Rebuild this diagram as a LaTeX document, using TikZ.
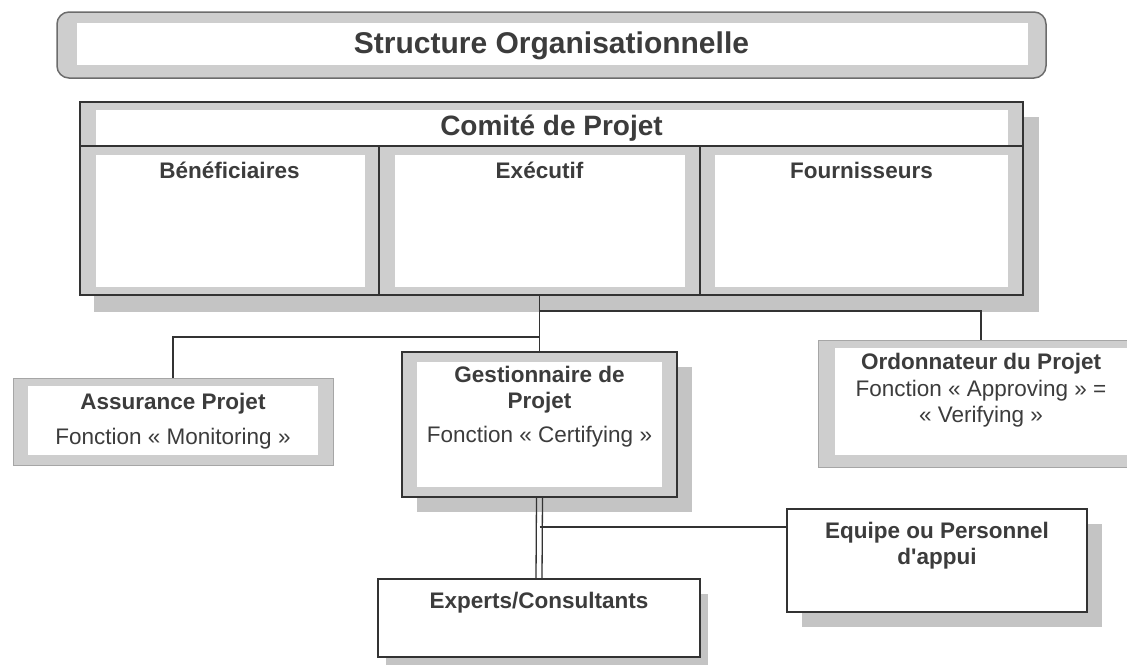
\documentclass[tikz,border=0pt]{standalone}
\usepackage{fontspec}
\setmainfont{Liberation Sans}[Ligatures=TeXOff]
\setsansfont{Liberation Sans}[Ligatures=TeXOff]
\usetikzlibrary{backgrounds,shadows}
\definecolor{framegray}{HTML}{CECECE}
\definecolor{shadegray}{HTML}{C4C4C4}
\definecolor{inkgray}{HTML}{3C3C3C}
\definecolor{linegray}{HTML}{333333}
\tikzset{
	gframe/.style n args={4}{fill=framegray, path picture={%
		\fill[white, sharp corners] ([shift={(#1pt,-#2pt)}]path picture bounding box.north west)
			rectangle ([shift={(-#3pt,#4pt)}]path picture bounding box.south east);}},
	box/.style={draw=linegray, line width=1.3pt, inner sep=0pt},
	softbox/.style={draw=gray!70, line width=1pt, inner sep=0pt},
	lbl/.style={text=inkgray, font=\fontsize{22.5}{26}\selectfont\bfseries, align=center, inner sep=0pt},
	link/.style={draw=linegray, line width=1.3pt},
	dshadow/.style={drop shadow={shadow xshift=#1pt, shadow yshift=-15pt, fill=shadegray, opacity=1}},
}

\begin{document}
\begin{tikzpicture}[x=1pt,y=-1pt]
	\clip (0,0) rectangle (1127,664);
	% titre
	\node[box, draw=gray!85!black, line width=1.5pt, rounded corners=12pt, gframe={20}{11}{18}{13},
		minimum width=989pt, minimum height=66pt] (title) at (551.5,45) {};
		\node[lbl, font=\fontsize{30}{34}\selectfont\bfseries] (tTitle) at ([yshift=-1pt]title.center) {Structure Organisationnelle};
%
	% comite
	\node[box, gframe={16}{8}{15}{0}, minimum width=943pt, minimum height=44pt] (comite) at (551.5,124) {};
		\node[lbl, font=\fontsize{28}{32}\selectfont\bfseries] (tComite) at ([yshift=-4pt]comite.center) {Comité de Projet};
	\node[box, gframe={16}{9}{14}{8}, minimum width=299pt, minimum height=149pt] (benef) at (229.5,220.5) {};
		\node[lbl] (tBenef) at ([yshift=-25pt]benef.north) {Bénéficiaires};
	\node[box, gframe={16}{9}{15}{8}, minimum width=321pt, minimum height=149pt] (exec) at (539.5,220.5) {};
		\node[lbl] (tExec) at ([yshift=-25pt]exec.north) {Exécutif};
	\node[box, gframe={15}{9}{15}{8}, minimum width=323pt, minimum height=149pt] (fourn) at (861.5,220.5) {};
		\node[lbl] (tFourn) at ([yshift=-25pt]fourn.north) {Fournisseurs};
	\begin{scope}[on background layer]
		\fill[shadegray] ([shift={(15pt,-16pt)}]comite.north west) rectangle ([shift={(15pt,-16pt)}]fourn.south east);
	\end{scope}
%
	% fonctions
	\node[softbox, gframe={15}{8}{15}{10}, minimum width=320pt, minimum height=87pt] (assur) at (173,421.5) {};
		\node[lbl] (tAssur) at (assur.center) {Assurance Projet\\[9pt]{\mdseries Fonction « Monitoring »}};
	\node[box, dshadow=15, gframe={15}{10}{15}{10}, minimum width=275pt, minimum height=145pt] (gest) at (539.5,424.5) {};
		\node[lbl] (tGest) at ([yshift=-55.5pt]gest.north) {Gestionnaire de\\Projet\\[8pt]{\mdseries Fonction « Certifying »}};
	\node[softbox, gframe={17}{8}{15}{12}, minimum width=326pt, minimum height=127pt] (ordo) at (981,403.5) {};
		\node[lbl] (tOrdo) at ([yshift=-51pt]ordo.north) {Ordonnateur du Projet\\[1pt]{\mdseries Fonction « Approving » =}\\{\mdseries « Verifying »}};
%
	% appui
	\node[box, fill=white, dshadow=8, minimum width=322pt, minimum height=78pt] (expert) at (539,618) {};
		\node[lbl] (tExpert) at ([yshift=-24pt]expert.north) {Experts/Consultants};
	\node[box, fill=white, dshadow=15, minimum width=300pt, minimum height=103pt] (equipe) at (937,560.5) {};
		\node[lbl] (tEquipe) at ([yshift=-37.5pt]equipe.north) {Equipe ou Personnel\\d'appui};
%
	% liaisons
	\coordinate (jO) at (exec.south |- 0,311);
	\coordinate (jA) at (exec.south |- 0,337);
	\coordinate (jE) at (gest.south |- 0,527);
	\draw[link] (exec.south) -- (gest.north);
	\draw[link] (jO) -| (ordo.north);
	\draw[link] (jA) -| (assur.north);
	\draw[link] ([xshift=-3pt]gest.south) -- ([xshift=-3pt]expert.north);
	\draw[link] ([xshift=3pt]gest.south) -- ([xshift=3pt]expert.north);
	\draw[link] (jE) -- (jE -| equipe.west);
\end{tikzpicture}
\end{document}
